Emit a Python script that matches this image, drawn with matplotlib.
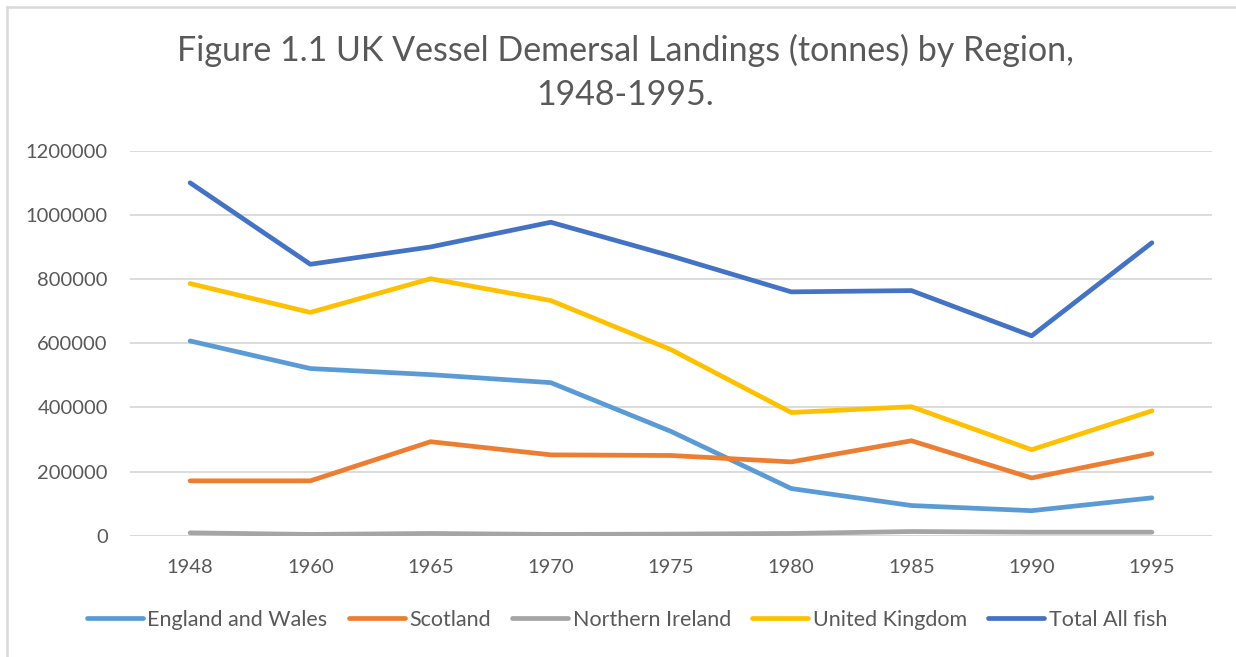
import numpy as np
import matplotlib.pyplot as plt
from matplotlib.lines import Line2D

years = ['1948', '1960', '1965', '1970', '1975', '1980', '1985', '1990', '1995']

england_wales = [607000, 521000, 502000, 477000, 325000, 147000, 94000, 78000, 118000]
scotland = [171000, 171000, 293000, 252000, 250000, 230000, 296000, 180000, 256000]
northern_ireland = [9000, 4000, 7000, 4000, 5000, 7000, 13000, 11000, 11000]
united_kingdom = [786000, 696000, 801000, 733000, 580000, 384000, 402000, 268000, 389000]
total_all_fish = [1100000, 846000, 900000, 977000, 872000, 760000, 764000, 623000, 913000]

series = [
    ('England and Wales', england_wales, '#5B9BD5'),
    ('Scotland', scotland, '#ED7D31'),
    ('Northern Ireland', northern_ireland, '#A5A5A5'),
    ('United Kingdom', united_kingdom, '#FFC000'),
    ('Total All fish', total_all_fish, '#4472C4'),
]

plt.rcParams['font.family'] = ['Lato', 'DejaVu Sans']
text_col = '#595959'

W, H = 1236, 657
fig = plt.figure(figsize=(12.36, 6.57), dpi=100)
ax = fig.add_axes([130 / W, 1 - 535.7 / H, (1212 - 130) / W, (535.7 - 150.7) / H])

x = np.arange(len(years))
for name, vals, col in series:
    ax.plot(x, vals, color=col, lw=3.4, label=name, solid_capstyle='round', solid_joinstyle='round')

ax.set_xlim(-0.5, len(years) - 0.5)
ax.set_ylim(0, 1200000)
ax.set_yticks(np.arange(0, 1200001, 200000))
ax.set_yticklabels([str(v) for v in range(0, 1200001, 200000)])
ax.set_xticks(x)
ax.set_xticklabels(years)
ax.tick_params(axis='both', length=0, labelsize=14.5, colors=text_col)
ax.tick_params(axis='y', pad=16)
ax.tick_params(axis='x', pad=17)
ax.grid(axis='y', color='#D9D9D9', lw=1.3)
ax.set_axisbelow(True)
for s in ax.spines.values():
    s.set_visible(False)
ax.axhline(0, color='#D9D9D9', lw=1.3, zorder=0)

# title, two lines
fig.text(625 / W, 1 - 50 / H, 'Figure 1.1 UK Vessel Demersal Landings (tonnes) by Region,',
         ha='center', va='center', fontsize=24.5, color=text_col)
fig.text(625 / W, 1 - 95 / H, '1948-1995.',
         ha='center', va='center', fontsize=24.5, color=text_col)

fig.legend(loc='center', bbox_to_anchor=(627 / W, 1 - 620 / H), ncol=5, frameon=False,
           fontsize=15.5, labelcolor=text_col, handlelength=2.6, handletextpad=0.2,
           columnspacing=1.0)

# chart border
fig.add_artist(Line2D([6.5 / W, 1], [1 - 6.5 / H, 1 - 6.5 / H], color='#D9D9D9', lw=1.8))
fig.add_artist(Line2D([6.5 / W, 6.5 / W], [0, 1 - 6.5 / H], color='#D9D9D9', lw=1.8))

fig.savefig('out.png', dpi=100)
